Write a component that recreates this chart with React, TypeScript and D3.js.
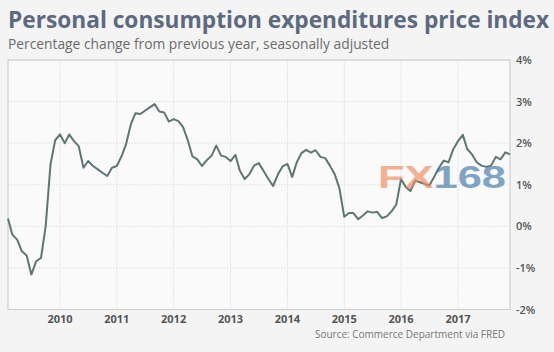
import React from 'react';
import * as d3 from 'd3';

// PCE price index, % change y/y, monthly Feb 2009 - Dec 2017
const startMonth = new Date(2009, 1, 1);
const pce2009 = [0.19, -0.2, -0.32, -0.6, -0.7, -1.16, -0.84, -0.76, 0.0, 1.49, 2.07];
const pce2010 = [2.21, 2.0, 2.21, 2.05, 1.93, 1.41, 1.57, 1.45, 1.37, 1.29, 1.21, 1.41];
const pce2011 = [1.45, 1.69, 1.97, 2.45, 2.72, 2.7, 2.78, 2.86, 2.94, 2.76, 2.74, 2.52];
const pce2012 = [2.58, 2.53, 2.39, 2.07, 1.68, 1.61, 1.45, 1.59, 1.7, 1.94, 1.7, 1.67];
const pce2013 = [1.57, 1.72, 1.34, 1.14, 1.25, 1.46, 1.52, 1.33, 1.14, 0.97, 1.25, 1.44];
const pce2014 = [1.5, 1.19, 1.53, 1.76, 1.84, 1.77, 1.83, 1.67, 1.64, 1.46, 1.25, 0.92];
const pce2015 = [0.23, 0.32, 0.32, 0.17, 0.26, 0.36, 0.33, 0.35, 0.2, 0.24, 0.36, 0.52];
const pce2016 = [1.14, 0.94, 0.85, 1.1, 1.06, 1.02, 0.98, 1.19, 1.41, 1.58, 1.54, 1.85];
const pce2017 = [2.05, 2.2, 1.86, 1.73, 1.54, 1.46, 1.43, 1.46, 1.67, 1.61, 1.78, 1.73];

const yearTicks = [2010, 2011, 2012, 2013, 2014, 2015, 2016, 2017];
const pctTicks = [-2, -1, 0, 1, 2, 3, 4];

const values = [
  ...pce2009, ...pce2010, ...pce2011, ...pce2012, ...pce2013,
  ...pce2014, ...pce2015, ...pce2016, ...pce2017,
];
const data = values.map((v, i) => ({
  date: new Date(startMonth.getFullYear(), startMonth.getMonth() + i, 1),
  value: v,
}));

export default function App() {
  const W = 554, H = 352;
  const left = 8, right = 510, top = 60, bottom = 309.5;

  const x = d3.scaleTime()
    .domain([data[0].date, data[data.length - 1].date])
    .range([left, right]);

  const y = d3.scaleLinear()
    .domain([-2, 4])
    .range([bottom, top]);

  const line = d3.line<{ date: Date; value: number }>()
    .x(d => x(d.date))
    .y(d => y(d.value));

  const font = '"Open Sans", "DejaVu Sans", sans-serif';

  return (
    <svg width={W} height={H} style={{ position: 'absolute', left: 0, top: 0 }}>
      <rect x={0} y={0} width={W} height={H} fill="#f4f4f4" />
      <text x={8} y={28} fontFamily={font} fontWeight={700} fontSize={22.7} fill="#5b6a80">
        Personal consumption expenditures price index
      </text>
      <text x={8} y={49} fontFamily={font} fontSize={13.8} fill="#6b6b6b">
        Percentage change from previous year, seasonally adjusted
      </text>

      <rect x={left} y={top} width={right - left} height={bottom - top} fill="#fafafa" />

      {/* gridlines */}
      {pctTicks.map(t => (
        <line key={'h' + t} x1={left} x2={right} y1={y(t)} y2={y(t)}
          stroke="#e4e4e4" strokeDasharray="2,1" />
      ))}
      {yearTicks.map(yr => (
        <line key={'v' + yr} x1={x(new Date(yr, 0, 1))} x2={x(new Date(yr, 0, 1))}
          y1={top} y2={bottom} stroke="#e4e4e4" strokeDasharray="2,1" />
      ))}

      <rect x={left} y={top} width={right - left} height={bottom - top}
        fill="none" stroke="#cfcfcf" strokeWidth={1.2} />

      <path d={line(data) || ''} fill="none" stroke="#5e7673" strokeWidth={2}
        strokeLinejoin="round" />

      {/* watermark */}
      <text x={378} y={188} fontFamily='"Liberation Sans", Arial, sans-serif'
        fontWeight={700} fontSize={32} opacity={0.65}
        textLength={128} lengthAdjust="spacingAndGlyphs">
        <tspan fill="#f08a5d">FX</tspan>
        <tspan fill="#3f79a8">168</tspan>
      </text>

      {pctTicks.map(t => (
        <text key={'yl' + t} x={516} y={y(t) + 4} fontFamily={font} fontWeight={600}
          fontSize={11} fill="#555">{t + '%'}</text>
      ))}
      {yearTicks.map(yr => (
        <text key={'xl' + yr} x={x(new Date(yr, 0, 1))} y={323} textAnchor="middle"
          fontFamily={font} fontWeight={700} fontSize={11} fill="#555">{yr}</text>
      ))}

      <text x={505} y={338} textAnchor="end" fontFamily={font} fontSize={10} fill="#777">
        Source: Commerce Department via FRED
      </text>
    </svg>
  );
}
